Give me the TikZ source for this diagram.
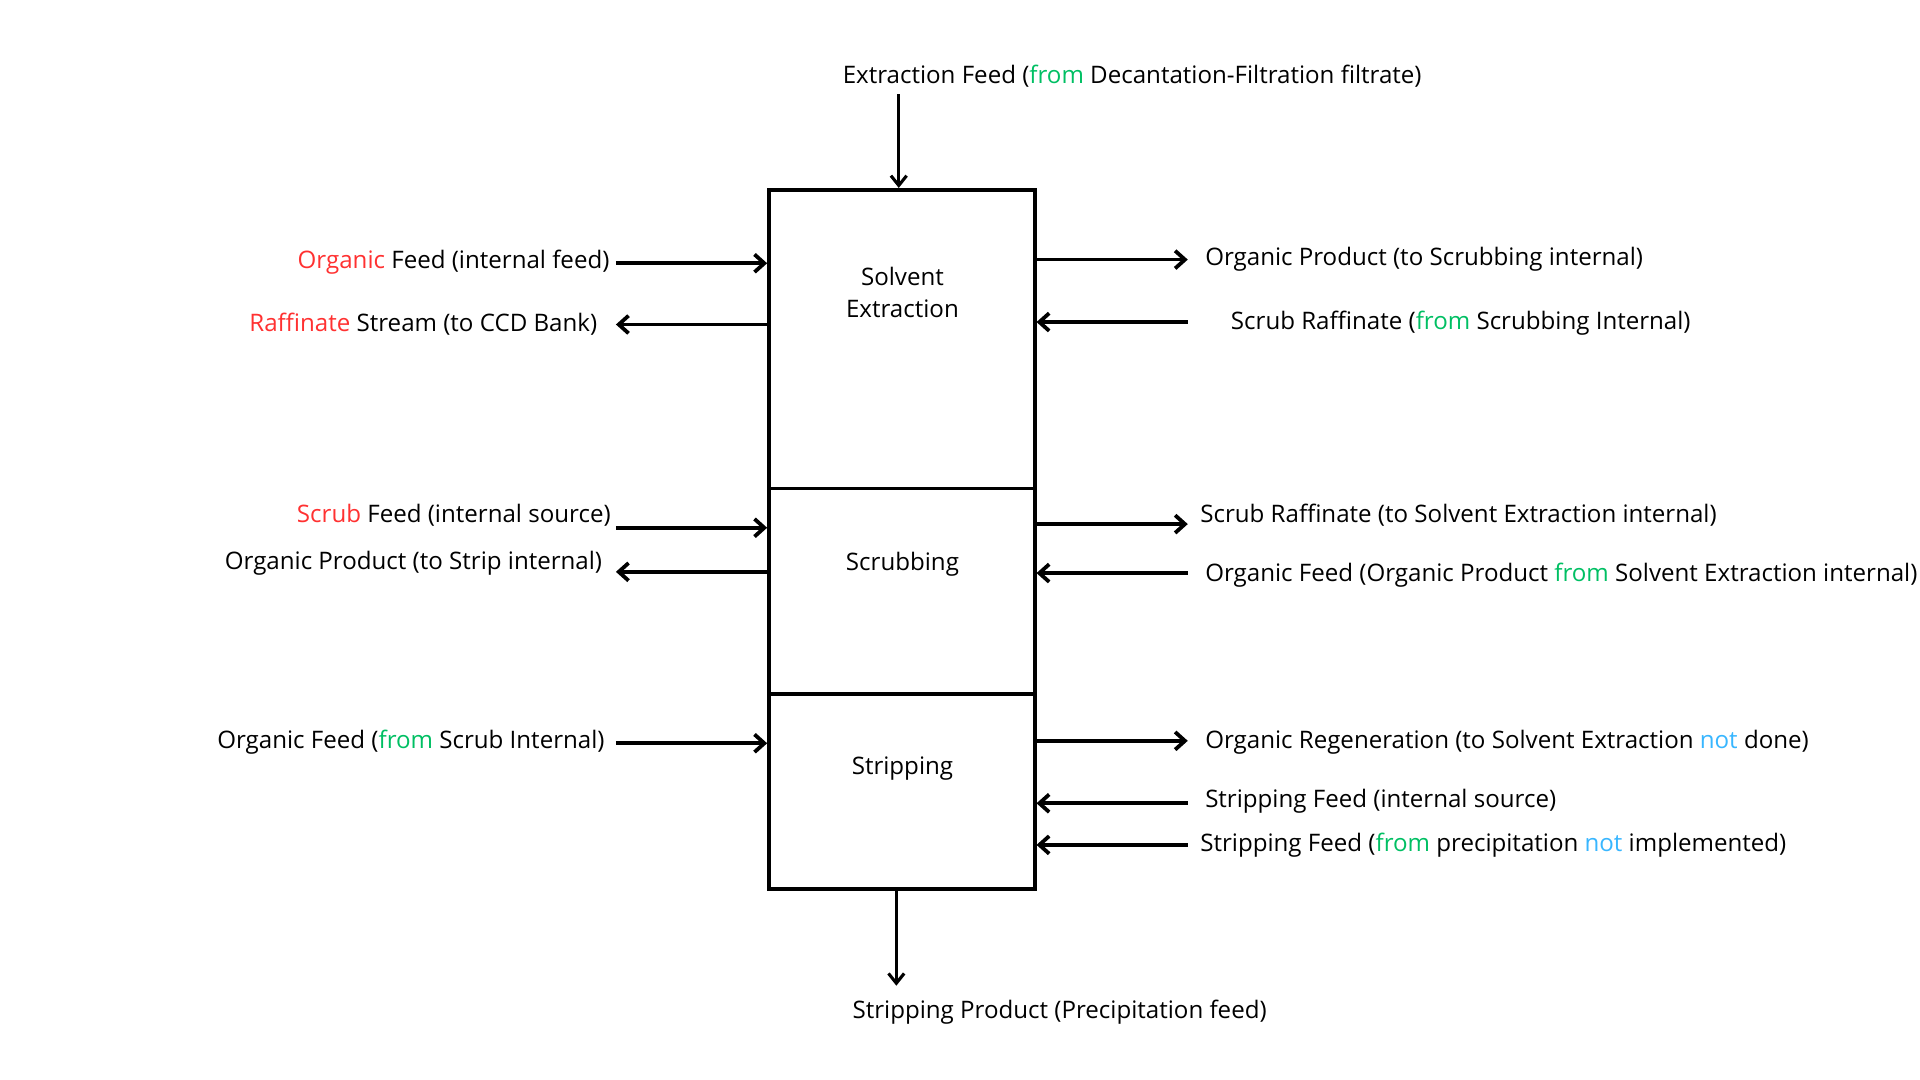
\documentclass[tikz,border=0pt]{standalone}
\usepackage{fontspec}
\setmainfont{Open Sans}
\usetikzlibrary{arrows.meta}
\definecolor{keyred}{HTML}{FF3131}
\definecolor{fromgreen}{HTML}{00BF63}
\definecolor{notblue}{HTML}{38B6FF}
\newcommand{\keyword}[1]{\textcolor{keyred}{#1}}
\newcommand{\fromword}[1]{\textcolor{fromgreen}{#1}}
\newcommand{\notword}[1]{\textcolor{notblue}{#1}}
\tikzset{
  stage/.style={draw, line width=2.1pt, minimum width=5.425cm, inner sep=0pt},
  flow/.style={line width=2.2pt, -{Straight Barb[length=0.2cm, width=0.36cm, line width=2.2pt]}},
  feedflow/.style={line width=1.8pt, -{Straight Barb[length=0.2cm, width=0.32cm, line width=1.8pt]}},
  lbl/.style={inner sep=0pt, font=\fontsize{14}{18.5}\selectfont, align=center},
}
\begin{document}
\begin{tikzpicture}[x=0.025cm, y=0.025cm]
      \useasboundingbox (0,0) rectangle (1568,-882);

      % column of stages
      \node[stage, minimum height=6.1cm]   at (736.5,-277)   (se)    {};
      \node[stage, minimum height=4.2cm]   at (736.5,-483)   (sc)    {};
      \node[stage, minimum height=3.975cm] at (736.5,-646.5) (st)    {};

      \node[lbl] at (737,-239) (selbl) {Solvent\\Extraction};
      \node[lbl] at (737,-461) (sclbl) {Scrubbing};
      \node[lbl] at (737,-628) (stlbl) {Stripping};

      % feed at the top, product at the bottom
      \node[lbl, anchor=west] at (688,-62)  (topfeed) {Extraction Feed (\fromword{from} Decantation-Filtration filtrate)};
      \node[lbl, anchor=west] at (696,-827) (botprod) {Stripping Product (Precipitation feed)};
      \coordinate (tf) at (734,-77);
      \coordinate (sp) at (732,-805);
      \draw[feedflow] (tf) -- (tf |- se.north);
      \draw[feedflow] (sp |- st.south) -- (sp);

      % left side
      \node[lbl, anchor=east] at (498,-214) (l1) {\keyword{Organic} Feed (internal feed)};
      \node[lbl, anchor=east] at (488,-265) (l2) {\keyword{Raffinate} Stream (to CCD Bank)};
      \node[lbl, anchor=east] at (499,-421) (l3) {\keyword{Scrub} Feed (internal source)};
      \node[lbl, anchor=east] at (492,-460) (l4) {Organic Product (to Strip internal)};
      \node[lbl, anchor=east] at (494,-606) (l5) {Organic Feed (\fromword{from} Scrub Internal)};

      \coordinate (a1) at (503,-215);
      \coordinate (a2) at (503,-265);
      \coordinate (a3) at (503,-431);
      \coordinate (a4) at (503,-467);
      \coordinate (a5) at (503,-607);
      \draw[flow] (a1) -- (a1 -| se.west);
      \draw[flow] (a2 -| se.west) -- (a2);
      \draw[flow] (a3) -- (a3 -| sc.west);
      \draw[flow] (a4 -| sc.west) -- (a4);
      \draw[flow] (a5) -- (a5 -| st.west);

      % right side
      \node[lbl, anchor=west] at (984,-212)  (r1) {Organic Product (to Scrubbing internal)};
      \node[lbl, anchor=west] at (1005,-264) (r2) {Scrub Raffinate (\fromword{from} Scrubbing Internal)};
      \node[lbl, anchor=west] at (980,-421)  (r3) {Scrub Raffinate (to Solvent Extraction internal)};
      \node[lbl, anchor=west] at (984,-470)  (r4) {Organic Feed (Organic Product \fromword{from} Solvent Extraction internal)};
      \node[lbl, anchor=west] at (984,-606)  (r5) {Organic Regeneration (to Solvent Extraction \notword{not} done)};
      \node[lbl, anchor=west] at (984,-654)  (r6) {Stripping Feed (internal source)};
      \node[lbl, anchor=west] at (980,-690)  (r7) {Stripping Feed (\fromword{from} precipitation \notword{not} implemented)};

      \coordinate (b1) at (970,-212);
      \coordinate (b2) at (970,-263);
      \coordinate (b3) at (970,-428);
      \coordinate (b4) at (970,-468);
      \coordinate (b5) at (970,-605);
      \coordinate (b6) at (970,-656);
      \coordinate (b7) at (970,-690);
      \draw[flow] (b1 -| se.east) -- (b1);
      \draw[flow] (b2) -- (b2 -| se.east);
      \draw[flow] (b3 -| sc.east) -- (b3);
      \draw[flow] (b4) -- (b4 -| sc.east);
      \draw[flow] (b5 -| st.east) -- (b5);
      \draw[flow] (b6) -- (b6 -| st.east);
      \draw[flow] (b7) -- (b7 -| st.east);
    \end{tikzpicture}
\end{document}
